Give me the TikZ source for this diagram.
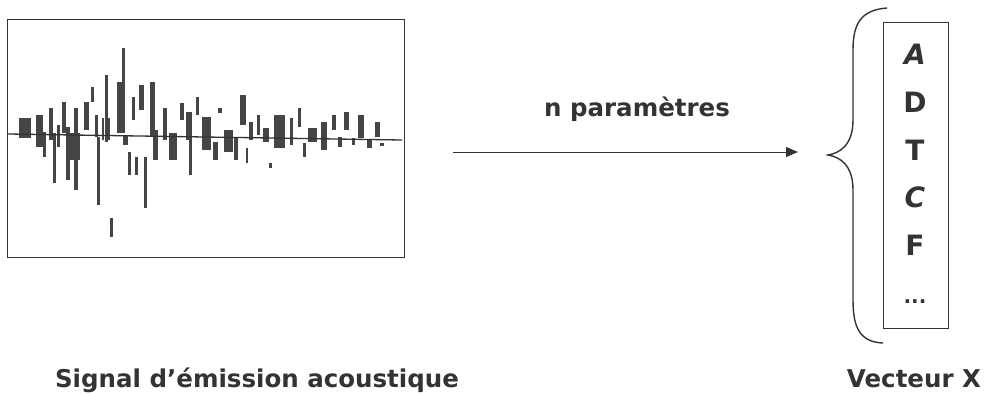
\documentclass[tikz,border=0pt]{standalone}
\usepackage{fontspec}
\setmainfont{DejaVu Sans}
\usetikzlibrary{arrows.meta}
\definecolor{ink}{HTML}{333333}
\definecolor{bar}{HTML}{454545}
\begin{document}
\begin{tikzpicture}[x=1pt,y=-1pt,
  lbl/.style={text=ink,font=\fontsize{24.5}{28}\selectfont\bfseries,inner sep=0pt,anchor=base},
  vec/.style={text=ink,font=\fontsize{28}{32}\selectfont\bfseries,inner sep=0pt},
  frame/.style={draw=ink,line width=1.4pt},
]
\useasboundingbox (0,0) rectangle (985,394);
% signal frame
\node[frame,minimum width=397pt,minimum height=238pt,inner sep=0pt,anchor=north west] (sig) at (7,19) {};
\coordinate (b0) at (8,134);
\coordinate (b1) at (402,140);
% bars
\foreach \xa/\ya/\xb/\yb in {
 19/118/31/138, 36/115/43/147, 43/132/46/157, 49/108/53/140, 53/133/56/183,
 57/125/60/147, 62/102/66/133, 66/127/70/180, 70/133/80/160, 74/108/78/190,
 84/102/89/130, 91/87/94/102, 95/115/98/137, 97/137/100/205, 105/75/108/142,
 102/118/104/140, 108/118/110/140, 110/218/113/237, 117/82/124/133, 122/48/125/133, 123/135/128/145,
 128/152/131/175, 132/97/135/120, 135/157/138/175, 139/85/144/110, 144/157/147/208,
 150/82/155/137, 153/130/158/160, 163/108/167/140, 169/133/177/160, 180/103/184/120,
 186/112/192/140, 189/137/192/175, 196/97/199/115, 202/117/211/150, 213/142/218/160,
 218/108/222/113, 224/130/233/152, 234/137/238/160, 240/95/246/125, 246/148/248/163,
 249/122/253/140, 257/115/260/135, 263/128/269/142, 269/163/272/168, 274/115/285/148,
 290/118/293/145, 298/108/301/127, 303/143/306/157, 308/128/317/142, 321/122/327/150,
 332/115/336/130, 338/137/342/147, 344/112/349/130, 352/138/355/145, 358/115/364/138,
 367/140/372/148, 375/122/380/137, 380/143/384/146}
 {\fill[bar] (\xa,\ya) rectangle (\xb,\yb);}
\draw[ink,line width=1.3pt] (b0) -- (b1);
% arrow
\coordinate (a0) at (453,152);
\coordinate (a1) at (798,152);
\draw[ink,line width=1pt,-{Triangle[length=12pt,width=10pt]}] (a0) -- (a1);
\node[lbl] (np) at (637,116) {n paramètres};
% vector box
\node[frame,minimum width=65pt,minimum height=306pt,inner sep=0pt,anchor=north west] (vx) at (883,22) {};
\node[vec] (vA) at (915,54) {\itshape A};
\node[vec] (vD) at (915,102) {D};
\node[vec] (vT) at (915,150) {T};
\node[vec] (vC) at (915,197) {\itshape C};
\node[vec] (vF) at (915,245) {F};
\node[vec,font=\fontsize{20}{24}\selectfont\bfseries] (vE) at (915,302) {...};
% brace
\draw[ink,line width=1.4pt] (887,8) .. controls (860,10) and (853,25) .. (853,50)
  -- (853,120) .. controls (853,145) and (840,153) .. (828,155)
  .. controls (840,157) and (853,165) .. (853,190)
  -- (853,300) .. controls (853,328) and (860,342) .. (883,343);
% bottom labels
\node[lbl] (ls) at (257,387) {Signal d'émission acoustique};
\node[lbl] (lv) at (914,387) {Vecteur X};
\end{tikzpicture}
\end{document}
